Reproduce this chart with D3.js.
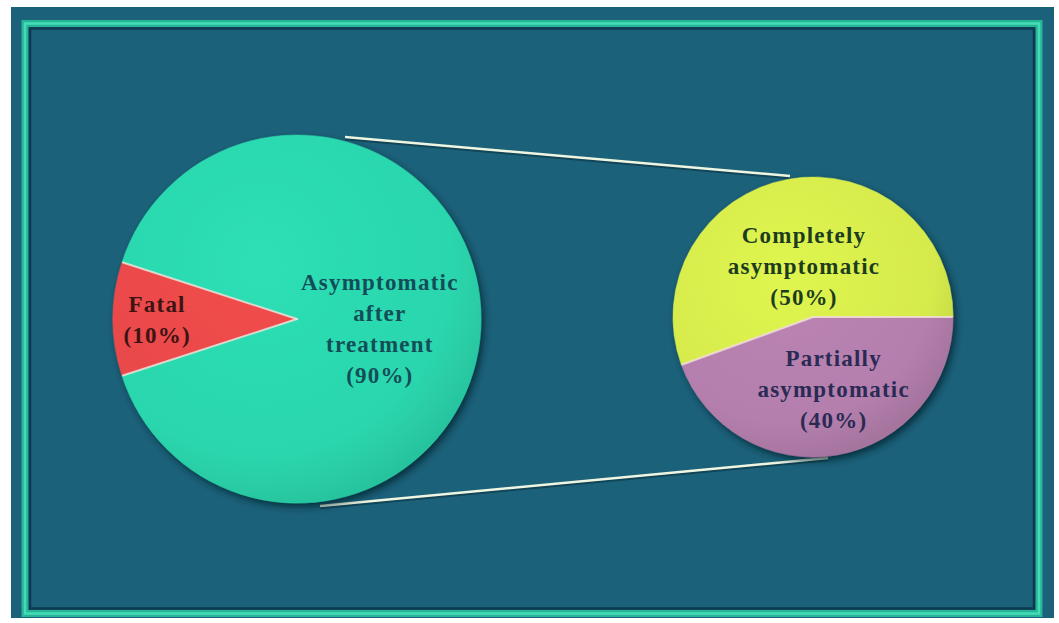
<!DOCTYPE html>
<html>
<head>
<meta charset="utf-8">
<script src="https://cdn.jsdelivr.net/npm/d3@7/dist/d3.min.js"></script>
<style>
  html, body { margin: 0; padding: 0; background: #ffffff; }
  svg { display: block; }
</style>
</head>
<body>
<svg id="chart" width="1059" height="623"></svg>
<script>
// Outcome split (main pie)
const mainLabels = [["Fatal", "(10%)"], ["Asymptomatic", "after", "treatment", "(90%)"]];
const mainValues = [10, 90];
const mainColors = ["#e8494a", "#2bd6ad"];
const mainText = ["#3d1414", "#144d58"];

// Breakdown of the asymptomatic share (secondary pie)
const subLabels = [["Completely", "asymptomatic", "(50%)"], ["Partially", "asymptomatic", "(40%)"]];
const subValues = [50, 40];
const subColors = ["#d6eb4c", "#b47fac"];
const subText = ["#1d3c1f", "#2a2a55"];

const svg = d3.select("#chart");
const defs = svg.append("defs");

// drop shadow for the pies
const sh = defs.append("filter").attr("id", "shadow")
  .attr("x", "-20%").attr("y", "-20%").attr("width", "140%").attr("height", "140%");
sh.append("feDropShadow").attr("dx", 3).attr("dy", 4).attr("stdDeviation", 3.5)
  .attr("flood-color", "#06222e").attr("flood-opacity", 0.75);

// panel background and frame
svg.append("rect").attr("x", 11).attr("y", 7).attr("width", 1043).attr("height", 611)
  .attr("fill", "#1b6179");
svg.append("rect").attr("x", 25).attr("y", 23.5).attr("width", 1014).attr("height", 590)
  .attr("fill", "none").attr("stroke", "#26b697").attr("stroke-width", 7);
svg.append("rect").attr("x", 25).attr("y", 23.5).attr("width", 1014).attr("height", 590)
  .attr("fill", "none").attr("stroke", "#44dcb6").attr("stroke-width", 2.5);
svg.append("rect").attr("x", 30).attr("y", 28.5).attr("width", 1004).attr("height", 580)
  .attr("fill", "none").attr("stroke", "#0d3a4f").attr("stroke-width", 2.5);

const mainC = { x: 297, y: 319 }, mainR = 184;
const subC = { x: 813, y: 317 }, subR = 140;
const deg = Math.PI / 180;

// connector lines between the two pies
const connectors = [
  [[345, 137], [790, 176]],
  [[320, 506], [828, 458]]
];
const cg = svg.append("g");
connectors.forEach(([a, b]) => {
  cg.append("line").attr("x1", a[0]).attr("y1", a[1] + 2).attr("x2", b[0]).attr("y2", b[1] + 2)
    .attr("stroke", "#0e3a4a").attr("stroke-width", 2.5).attr("opacity", 0.7);
  cg.append("line").attr("x1", a[0]).attr("y1", a[1]).attr("x2", b[0]).attr("y2", b[1])
    .attr("stroke", "#eef6e2").attr("stroke-width", 2.5);
});

function gradient(id, color, r) {
  const g = defs.append("radialGradient").attr("id", id)
    .attr("gradientUnits", "userSpaceOnUse")
    .attr("cx", -r * 0.2).attr("cy", -r * 0.3).attr("r", r * 1.4);
  const base = d3.color(color);
  g.append("stop").attr("offset", "0%").attr("stop-color", base.brighter(0.12));
  g.append("stop").attr("offset", "75%").attr("stop-color", base);
  g.append("stop").attr("offset", "100%").attr("stop-color", base.darker(0.3));
  return `url(#${id})`;
}

function drawPie(values, labels, colors, textColors, c, r, start, labelRadii, offsets, idp) {
  const pie = d3.pie().sort(null).value(d => d).startAngle(start).endAngle(start + 2 * Math.PI);
  const arcs = pie(values);
  const arc = d3.arc().innerRadius(0).outerRadius(r);
  const g = svg.append("g").attr("transform", `translate(${c.x},${c.y})`)
    .attr("filter", "url(#shadow)");
  arcs.forEach((a, i) => {
    g.append("path").attr("d", arc(a))
      .attr("fill", gradient(`${idp}${i}`, colors[i], r))
      .attr("stroke", colors[i]).attr("stroke-width", 0.5);
  });
  // light bevel along the slice boundaries
  const eg = svg.append("g").attr("transform", `translate(${c.x},${c.y})`);
  arcs.forEach(a => {
    const ang = a.startAngle;
    eg.append("line").attr("x1", 0).attr("y1", 0)
      .attr("x2", Math.sin(ang) * (r - 1)).attr("y2", -Math.cos(ang) * (r - 1))
      .attr("stroke", "#f6e4dc").attr("stroke-opacity", 0.8).attr("stroke-width", 2)
      .attr("stroke-linecap", "round");
  });
  const tg = svg.append("g").attr("transform", `translate(${c.x},${c.y})`);
  arcs.forEach((a, i) => {
    const la = d3.arc().innerRadius(r * labelRadii[i]).outerRadius(r * labelRadii[i]);
    const [px, py] = la.centroid(a);
    const lines = labels[i];
    const lh = 31;
    const t = tg.append("text")
      .attr("text-anchor", "middle")
      .attr("font-family", "'Liberation Serif', 'Times New Roman', serif")
      .attr("font-weight", "bold")
      .attr("font-size", 23)
      .attr("letter-spacing", 1.2)
      .attr("fill", textColors[i]);
    lines.forEach((s, k) => {
      t.append("tspan").attr("x", px + offsets[i][0])
        .attr("y", py + offsets[i][1] + (k - (lines.length - 1) / 2) * lh + 8)
        .text(s);
    });
  });
}

// main pie: Fatal slice centred on the left side
drawPie(mainValues, mainLabels, mainColors, mainText, mainC, mainR,
  (270 - 18) * deg, [0.76, 0.45], [[0, 0], [0, 9]], "gm");

// secondary pie: the partial share starts at three o'clock
drawPie(subValues, subLabels, subColors, subText, subC, subR,
  250 * deg, [0.37, 0.52], [[0, 0], [8, 0]], "gs");
</script>
</body>
</html>
